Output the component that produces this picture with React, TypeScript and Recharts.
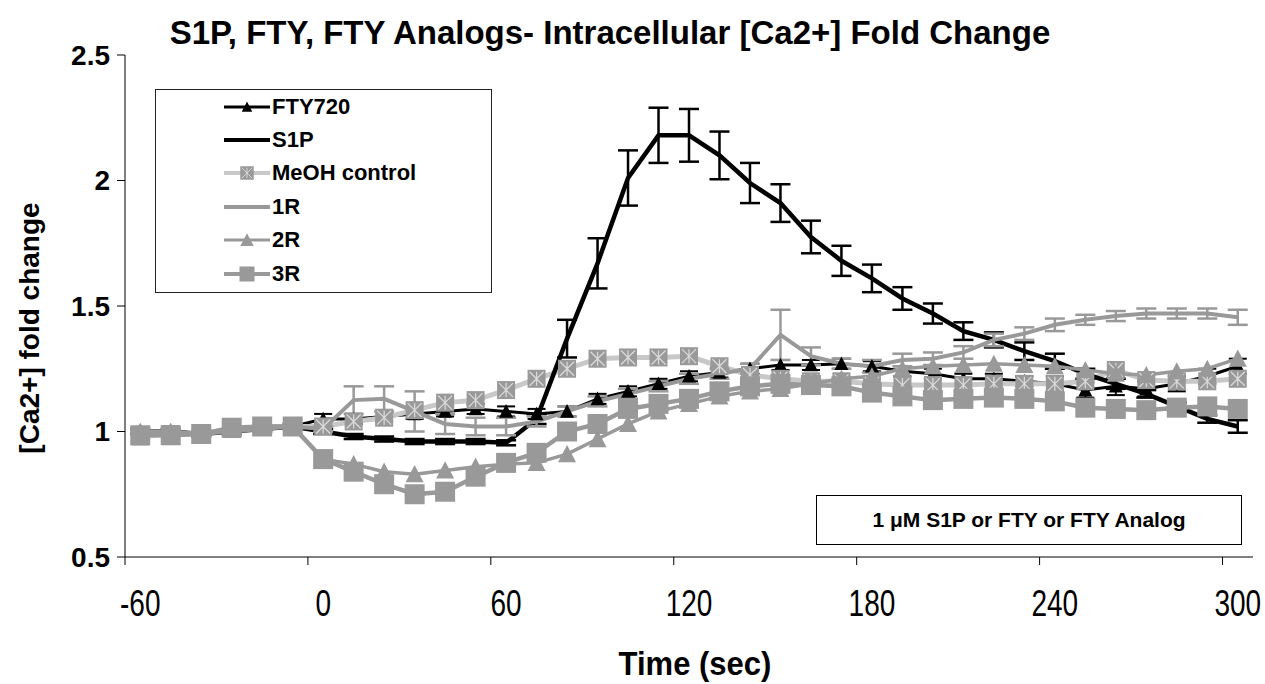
import React from "react";
import { LineChart, Line, XAxis, YAxis, ErrorBar } from "recharts";

// time points, seconds (one every 10 s)
const times = [-60, -50, -40, -30, -20, -10, 0, 10, 20, 30, 40, 50, 60, 70, 80, 90, 100, 110, 120, 130, 140, 150, 160, 170, 180, 190, 200, 210, 220, 230, 240, 250, 260, 270, 280, 290, 300];

const fty720 = [1.0, 1.0, 0.99, 1.0, 1.01, 1.02, 1.05, 1.05, 1.06, 1.07, 1.08, 1.09, 1.08, 1.07, 1.08, 1.13, 1.16, 1.19, 1.22, 1.235, 1.25, 1.265, 1.265, 1.27, 1.26, 1.24, 1.23, 1.21, 1.21, 1.2, 1.19, 1.165, 1.18, 1.17, 1.19, 1.22, 1.26];
const fty720Err = [0.01, 0.01, 0.01, 0.01, 0.01, 0.01, 0.02, 0.02, 0.02, 0.02, 0.02, 0.02, 0.02, 0.02, 0.02, 0.02, 0.02, 0.02, 0.02, 0.02, 0.02, 0.02, 0.02, 0.02, 0.02, 0.02, 0.02, 0.02, 0.02, 0.02, 0.03, 0.03, 0.035, 0.03, 0.03, 0.03, 0.03];

const s1p = [1.0, 1.0, 0.99, 1.0, 1.01, 1.02, 1.0, 0.98, 0.97, 0.96, 0.96, 0.96, 0.955, 1.05, 1.37, 1.67, 2.01, 2.18, 2.18, 2.1, 1.99, 1.91, 1.775, 1.68, 1.61, 1.53, 1.47, 1.4, 1.365, 1.32, 1.28, 1.23, 1.19, 1.15, 1.1, 1.05, 1.02];
const s1pErr = [0.01, 0.01, 0.01, 0.01, 0.01, 0.01, 0.01, 0.01, 0.01, 0.01, 0.01, 0.01, 0.01, 0.02, 0.075, 0.1, 0.11, 0.11, 0.105, 0.095, 0.08, 0.075, 0.065, 0.06, 0.055, 0.045, 0.04, 0.035, 0.03, 0.035, 0.03, 0.02, 0.02, 0.015, 0.015, 0.015, 0.025];

const meoh = [0.98, 0.99, 0.99, 1.01, 1.02, 1.02, 1.02, 1.04, 1.055, 1.085, 1.115, 1.125, 1.165, 1.21, 1.25, 1.29, 1.295, 1.295, 1.3, 1.26, 1.225, 1.21, 1.2, 1.2, 1.19, 1.185, 1.185, 1.185, 1.19, 1.19, 1.19, 1.2, 1.245, 1.205, 1.2, 1.2, 1.21];

const r1 = [1.0, 1.0, 0.99, 1.0, 1.01, 1.02, 1.01, 1.125, 1.13, 1.08, 1.03, 1.02, 1.02, 1.04, 1.08, 1.12, 1.15, 1.18, 1.21, 1.23, 1.25, 1.385, 1.3, 1.27, 1.26, 1.285, 1.29, 1.315, 1.365, 1.39, 1.425, 1.445, 1.46, 1.47, 1.47, 1.47, 1.455];
const r1Err = [0.01, 0.01, 0.01, 0.01, 0.01, 0.01, 0.01, 0.055, 0.05, 0.08, 0.04, 0.035, 0.035, 0.02, 0.02, 0.02, 0.02, 0.02, 0.02, 0.02, 0.02, 0.1, 0.035, 0.02, 0.025, 0.025, 0.025, 0.025, 0.025, 0.025, 0.025, 0.02, 0.02, 0.02, 0.02, 0.02, 0.03];

const r2 = [1.0, 1.0, 0.99, 1.01, 1.02, 1.02, 0.89, 0.87, 0.84, 0.83, 0.845, 0.86, 0.87, 0.875, 0.91, 0.97, 1.03, 1.08, 1.11, 1.14, 1.16, 1.17, 1.19, 1.21, 1.22, 1.25, 1.26, 1.265, 1.27, 1.265, 1.26, 1.245, 1.23, 1.225, 1.24, 1.25, 1.29];

const r3 = [0.985, 0.985, 0.99, 1.015, 1.02, 1.02, 0.89, 0.84, 0.79, 0.75, 0.76, 0.82, 0.875, 0.915, 1.0, 1.03, 1.09, 1.11, 1.13, 1.16, 1.18, 1.19, 1.185, 1.18, 1.155, 1.14, 1.125, 1.13, 1.135, 1.13, 1.12, 1.095, 1.09, 1.085, 1.095, 1.1, 1.09];

// tick marks sit between categories, labels on the category
const xTickEdges = [-65, -5, 55, 115, 175, 235, 295];
const xTickLabels = ["-60", "0", "60", "120", "180", "240", "300"];
const yTicks = [0.5, 1, 1.5, 2, 2.5];

const rows = times.map((t, i) => ({
  t,
  fty720: fty720[i],
  fty720Err: fty720Err[i],
  s1p: s1p[i],
  s1pErr: s1pErr[i],
  meoh: meoh[i],
  r1: r1[i],
  r1Err: r1Err[i],
  r2: r2[i],
  r3: r3[i],
}));

const FONT = "'Liberation Sans', Arial, sans-serif";
const GRAY = "#999999";
const LIGHT = "#c8c8c8";

const W = 1265;
const H = 684;
const M = { top: 55, right: 12, left: 65, bottom: 67 };
const Y_W = 60;
const PLOT_W = W - M.left - Y_W - M.right;
const HALF_BAND = (PLOT_W / 370) * 5;

function tri(cx: number, cy: number, s: number) {
  const h = s * 0.9;
  return `M${cx},${cy - h / 2 - 1}L${cx + s / 2},${cy + h / 2}L${cx - s / 2},${cy + h / 2}Z`;
}

function FtyMark({ cx, cy }: { cx: number; cy: number }) {
  return <path d={tri(cx, cy, 14)} fill="#000" />;
}
function MeohMark({ cx, cy }: { cx: number; cy: number }) {
  const s = 9;
  return (
    <g>
      <rect x={cx - s} y={cy - s} width={s * 2} height={s * 2} fill={GRAY} />
      <path
        d={`M${cx - s + 2},${cy - s + 2}L${cx + s - 2},${cy + s - 2}M${cx + s - 2},${cy - s + 2}L${cx - s + 2},${cy + s - 2}M${cx},${cy - s + 2}L${cx},${cy + s - 2}`}
        stroke="#dcdcdc"
        strokeWidth={1.2}
      />
    </g>
  );
}
function R2Mark({ cx, cy }: { cx: number; cy: number }) {
  return <path d={tri(cx, cy, 18)} fill={GRAY} />;
}
function R3Mark({ cx, cy }: { cx: number; cy: number }) {
  return <rect x={cx - 10} y={cy - 10} width={20} height={20} fill={GRAY} />;
}

function TimeTick(props: any) {
  const { x, y, index } = props;
  return (
    <g transform={`translate(${x + HALF_BAND},${y + 49}) scale(1,1.35)`}>
      <text x={0} y={0} textAnchor="middle" fontFamily={FONT} fontSize={28} fill="#000">
        {xTickLabels[index]}
      </text>
    </g>
  );
}

const legendItems = [
  { label: "FTY720", color: "#000", width: 3, mark: FtyMark },
  { label: "S1P", color: "#000", width: 4, mark: null },
  { label: "MeOH control", color: LIGHT, width: 4, mark: MeohMark },
  { label: "1R", color: GRAY, width: 4, mark: null },
  { label: "2R", color: GRAY, width: 3, mark: R2Mark },
  { label: "3R", color: GRAY, width: 4, mark: R3Mark },
];

function LegendBox() {
  return (
    <div
      style={{
        position: "absolute",
        left: 155,
        top: 89,
        width: 337,
        height: 204,
        boxSizing: "border-box",
        border: "1.5px solid #222",
        background: "#fff",
        fontFamily: FONT,
        fontWeight: "bold",
        fontSize: 22,
        color: "#000",
      }}
    >
      {legendItems.map((it) => {
        const Mark = it.mark;
        return (
          <div key={it.label} style={{ height: 33.4, display: "flex", alignItems: "center" }}>
            <svg width={46} height={22} style={{ marginLeft: 68, marginRight: 2 }}>
              <line x1={0} y1={11} x2={46} y2={11} stroke={it.color} strokeWidth={it.width} />
              {Mark ? (
                <g transform="translate(23,11) scale(0.75) translate(-23,-11)">
                  <Mark cx={23} cy={11} />
                </g>
              ) : null}
            </svg>
            <span>{it.label}</span>
          </div>
        );
      })}
    </div>
  );
}

export default function App() {
  return (
    <div style={{ position: "absolute", left: 0, top: 0, width: W, height: H, background: "#fff" }}>
      <div
        style={{
          position: "absolute",
          left: 0,
          top: 15,
          width: 1220,
          textAlign: "center",
          fontFamily: FONT,
          fontWeight: "bold",
          fontSize: 33,
          lineHeight: "36px",
        }}
      >
        S1P, FTY, FTY Analogs- Intracellular [Ca2+] Fold Change
      </div>
      <LineChart width={W} height={H} data={rows} margin={M}>
        <XAxis
          dataKey="t"
          type="number"
          domain={[-65, 305]}
          ticks={xTickEdges}
          interval={0}
          tick={<TimeTick />}
          tickSize={8}
          tickLine={{ stroke: "#000" }}
          axisLine={{ stroke: "#000" }}
          height={60}
        />
        <YAxis
          type="number"
          domain={[0.5, 2.5]}
          ticks={yTicks}
          interval={0}
          width={Y_W}
          tickSize={8}
          tickMargin={7}
          tickLine={{ stroke: "#000" }}
          axisLine={{ stroke: "#000" }}
          tick={{ fontFamily: FONT, fontSize: 28, fontWeight: "bold", fill: "#000" }}
        />
        <Line
          dataKey="fty720"
          name="FTY720"
          stroke="#000"
          strokeWidth={3}
          isAnimationActive={false}
          dot={(p: any) => <FtyMark key={p.index} cx={p.cx} cy={p.cy} />}
        >
          <ErrorBar dataKey="fty720Err" width={9} stroke="#000" strokeWidth={2} direction="y" />
        </Line>
        <Line
          dataKey="meoh"
          name="MeOH control"
          stroke={LIGHT}
          strokeWidth={5}
          isAnimationActive={false}
          dot={(p: any) => <MeohMark key={p.index} cx={p.cx} cy={p.cy} />}
        />
        <Line dataKey="s1p" name="S1P" stroke="#000" strokeWidth={4.5} dot={false} isAnimationActive={false}>
          <ErrorBar dataKey="s1pErr" width={10} stroke="#000" strokeWidth={2.5} direction="y" />
        </Line>
        <Line dataKey="r1" name="1R" stroke={GRAY} strokeWidth={4} dot={false} isAnimationActive={false}>
          <ErrorBar dataKey="r1Err" width={10} stroke={GRAY} strokeWidth={2.5} direction="y" />
        </Line>
        <Line
          dataKey="r2"
          name="2R"
          stroke={GRAY}
          strokeWidth={3.5}
          isAnimationActive={false}
          dot={(p: any) => <R2Mark key={p.index} cx={p.cx} cy={p.cy} />}
        />
        <Line
          dataKey="r3"
          name="3R"
          stroke={GRAY}
          strokeWidth={4.5}
          isAnimationActive={false}
          dot={(p: any) => <R3Mark key={p.index} cx={p.cx} cy={p.cy} />}
        />
      </LineChart>
      <LegendBox />
      <div
        style={{
          position: "absolute",
          left: -170,
          top: 311,
          width: 400,
          height: 34,
          lineHeight: "34px",
          textAlign: "center",
          transform: "rotate(-90deg)",
          fontFamily: FONT,
          fontWeight: "bold",
          fontSize: 28,
        }}
      >
        [Ca2+] fold change
      </div>
      <div
        style={{
          position: "absolute",
          left: 495,
          top: 647,
          width: 400,
          lineHeight: "34px",
          textAlign: "center",
          fontFamily: FONT,
          fontWeight: "bold",
          fontSize: 31,
          transform: "scale(1,1.1)",
        }}
      >
        Time (sec)
      </div>
      <div
        style={{
          position: "absolute",
          left: 816,
          top: 495,
          width: 426,
          height: 50,
          boxSizing: "border-box",
          border: "1.5px solid #000",
          display: "flex",
          alignItems: "center",
          justifyContent: "center",
          fontFamily: FONT,
          fontWeight: "bold",
          fontSize: 21,
        }}
      >
        1 μM S1P or FTY or FTY Analog
      </div>
    </div>
  );
}
